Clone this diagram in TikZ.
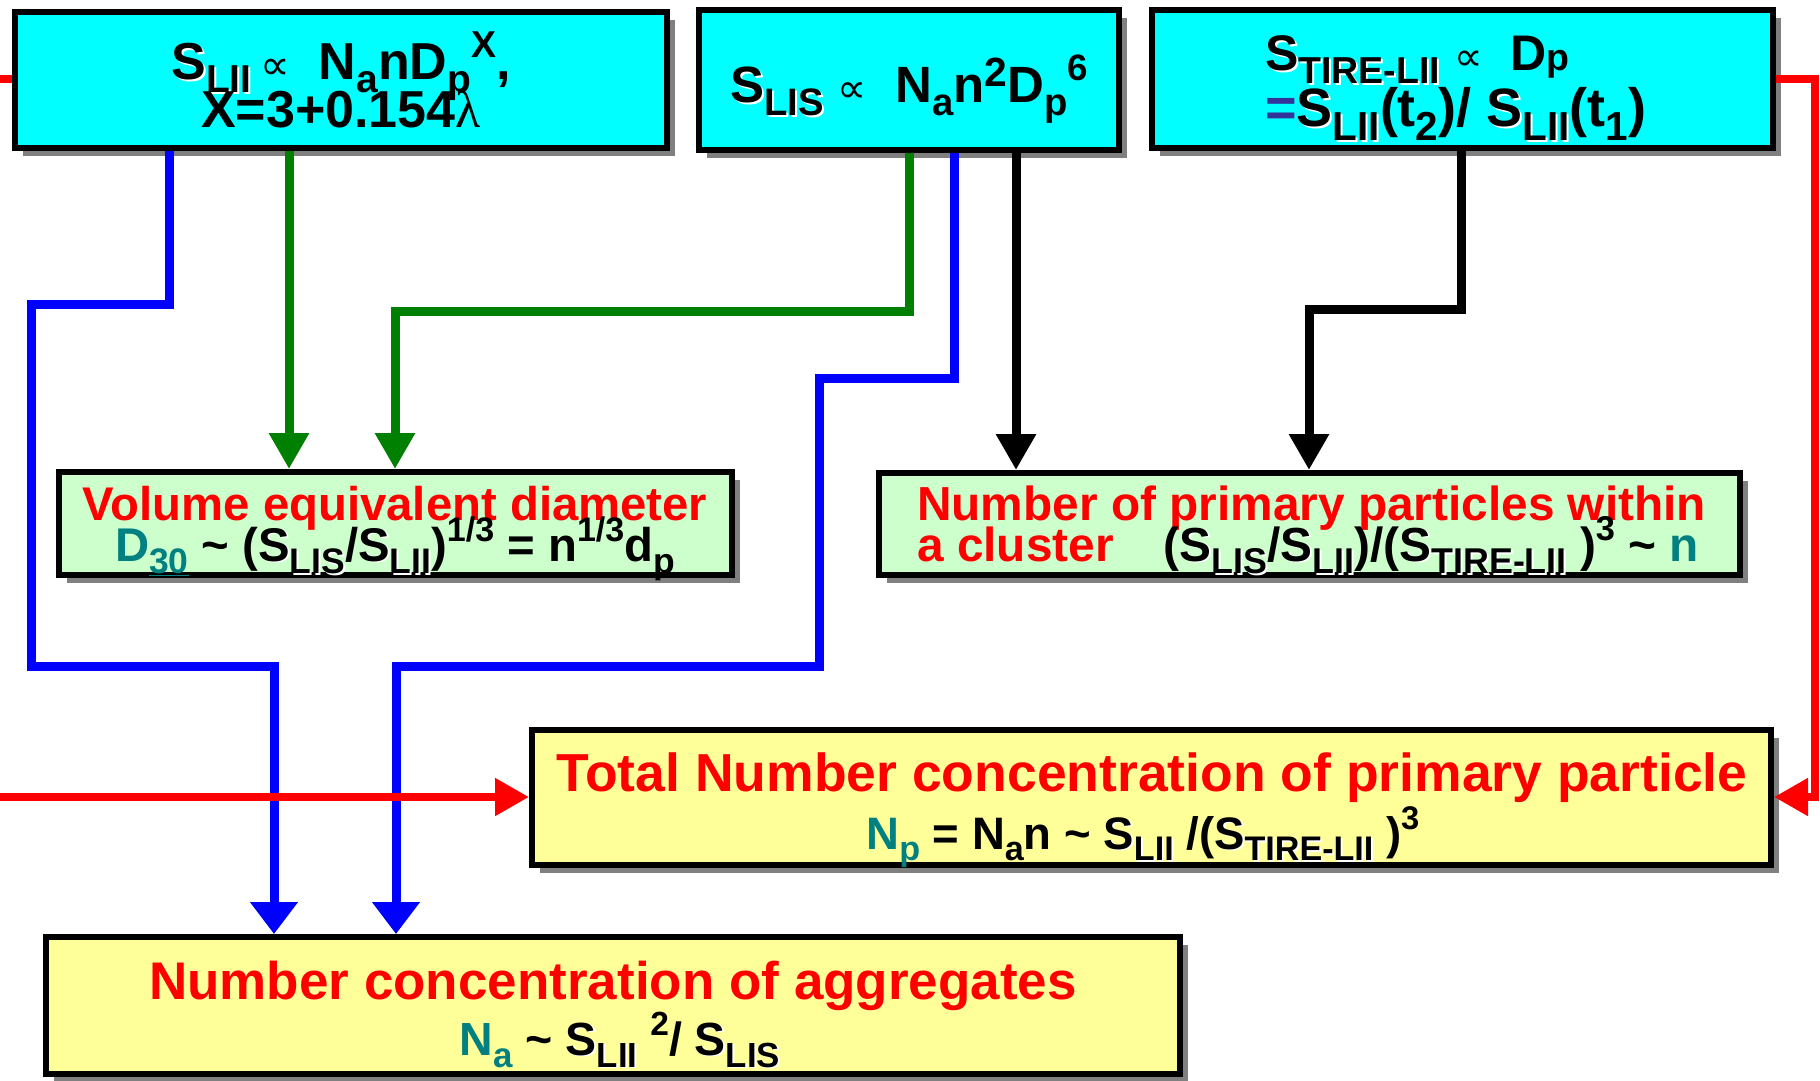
\documentclass[tikz,border=0pt]{standalone}
\usepackage{fontspec}
\usepackage{graphicx}
\setmainfont{Liberation Sans}
\newfontfamily\symf{DejaVu Sans}
\newfontfamily\serf{Liberation Serif}
\usetikzlibrary{arrows.meta,shadows}
\definecolor{cyanF}{RGB}{0,255,255}
\definecolor{greenF}{RGB}{204,255,204}
\definecolor{yellowF}{RGB}{255,255,153}
\definecolor{tealC}{RGB}{0,128,128}
\definecolor{eqblue}{RGB}{51,51,153}
\definecolor{greenL}{RGB}{0,128,0}
\definecolor{blueL}{RGB}{0,0,255}
\definecolor{redL}{RGB}{255,0,0}
\definecolor{shadowgray}{RGB}{128,128,128}
\newcommand\fs[2]{\fontsize{#1pt}{#2pt}\selectfont\bfseries}
\newcommand\mysub[1]{\raisebox{-0.26em}{\scalebox{0.75}{#1}}}
\newcommand\mysup[1]{\raisebox{0.42em}{\scalebox{0.72}{#1}}}
\newcommand\shd[1]{\makebox[0pt][l]{\hspace{0.04em}\raisebox{-0.04em}{\color{white}#1}}#1}
\newcommand\Ssub[1]{\shd{S\mysub{#1}}}
\newcommand\prop{{\symf\mdseries\scalebox{0.8}{∝}}}
\newcommand\tld{\textasciitilde}
\newcommand\lam{{\serf\mdseries λ}}
\begin{document}
\begin{tikzpicture}[x=1pt,y=-1pt,
  box/.style={draw=black,line width=6pt,inner sep=0pt,
    drop shadow={shadow xshift=8pt,shadow yshift=-8pt,fill=shadowgray,opacity=1}},
  txt/.style={inner sep=0pt,anchor=base},
  txtl/.style={inner sep=0pt,anchor=base west},
  bluec/.style={line width=9pt,draw=blueL,-{Triangle[width=46pt,length=32pt]}},
  greenc/.style={line width=9pt,draw=greenL,-{Triangle[width=38pt,length=36pt]}},
  blackc/.style={line width=9pt,draw=black,-{Triangle[width=38pt,length=36pt]}},
  redc/.style={line width=8pt,draw=redL,-{Triangle[width=36pt,length=34pt]}},
  redl/.style={line width=8pt,draw=redL}]
\useasboundingbox (0,0) rectangle (1820,1080);

% boxes
\node[box,fill=cyanF,minimum width=652pt,minimum height=136pt] (b1) at (341,80) {};
\node[box,fill=cyanF,minimum width=420pt,minimum height=140pt] (b2) at (909,80) {};
\node[box,fill=cyanF,minimum width=621pt,minimum height=138pt] (b3) at (1462.5,79) {};
\node[box,fill=greenF,minimum width=673pt,minimum height=103pt] (b4) at (395.5,523.5) {};
\node[box,fill=greenF,minimum width=861pt,minimum height=102pt] (b5) at (1309.5,524) {};
\node[box,fill=yellowF,minimum width=1239pt,minimum height=135pt] (b6) at (1151.5,797.5) {};
\node[box,fill=yellowF,minimum width=1134pt,minimum height=137pt] (b7) at (613,1005.5) {};

% texts
\node[txt,font={\fs{52}{48}}] (t1a) at (341,79) {\Ssub{LII}\,\prop\ \ N\mysub{a}nD\mysub{p}\mysup{X},};
\node[txt,font={\fs{52}{48}}] (t1b) at (341,127) {X=3+0.154\lam};
\node[txt,font={\fs{51}{48}}] (t2) at (909,102) {\Ssub{LIS}\ \prop\ \ N\mysub{a}n\raisebox{0.3em}{\scalebox{0.8}{2}}D\mysub{p}\mysup{6}};
\node[txtl,font={\fs{50}{48}}] (t3a) at (1265,70) {\Ssub{TIRE-LII}\ \prop\ \ D\scalebox{0.75}{p}};
\node[txtl,font={\fs{54}{48}}] (t3b) at (1265,126) {{\color{eqblue}=}\Ssub{LII}(t\mysub{2})/ \Ssub{LII}(t\mysub{1})};

\node[txt,font={\fs{47.3}{41}},text=redL] (t4a) at (395,520) {Volume equivalent diameter};
\node[txt,font={\fs{47.3}{41}}] (t4b) at (395,561) {{\color{tealC}D\mysub{\underline{30}}} \tld{} (\Ssub{LIS}/\Ssub{LII})\mysup{1/3} = n\mysup{1/3}d\mysub{p}};

\node[txtl,font={\fs{47.8}{41}},text=redL] (t5a) at (917,520) {Number of primary particles within};
\node[txtl,font={\fs{47.8}{41}}] (t5b) at (917,561) {{\color{redL}a cluster}\hspace{50pt}(\Ssub{LIS}/\Ssub{LII})/(\Ssub{TIRE-LII} )\mysup{3} \tld{} {\color{tealC}n}};

\node[txt,font={\fs{53.5}{59}},text=redL] (t6a) at (1152,791) {Total Number concentration of primary particle};
\node[txt,font={\fs{45.5}{59}}] (t6b) at (1143,849) {{\color{tealC}N\mysub{p}} = N\mysub{a}n \tld{} \Ssub{LII} /(\Ssub{TIRE-LII} )\mysup{3}};

\node[txt,font={\fs{53}{57}},text=redL] (t7a) at (613,999) {Number concentration of aggregates};
\node[txt,font={\fs{46.5}{57}}] (t7b) at (620,1055) {{\color{tealC}N\mysub{a}} \tld{} \Ssub{LII} \mysup{2}/ \Ssub{LIS}};

% waypoints
\coordinate (p1) at (169,304);
\coordinate (p2) at (31,304);
\coordinate (p3) at (31,666);
\coordinate (p4) at (274,666);
\coordinate (g1) at (289,300);
\coordinate (q1) at (909,311);
\coordinate (q2) at (395,311);
\coordinate (r1) at (954,378);
\coordinate (r2) at (819,378);
\coordinate (r3) at (819,666);
\coordinate (r4) at (396,666);
\coordinate (k1) at (1016,300);
\coordinate (m1) at (1461,309);
\coordinate (m2) at (1309,309);
\coordinate (e1) at (1815,79);
\coordinate (e2) at (1815,797);
\coordinate (L0) at (0,79);
\coordinate (L1) at (0,797);

% connectors
\draw[bluec] (b1.south -| p1) -- (p1) -- (p2) -- (p3) -- (p4) -- (b7.north -| p4);
\draw[greenc] (b1.south -| g1) -- (b4.north -| g1);
\draw[greenc] (b2.south -| q1) -- (q1) -- (q2) -- (b4.north -| q2);
\draw[bluec] (b2.south -| r1) -- (r1) -- (r2) -- (r3) -- (r4) -- (b7.north -| r4);
\draw[blackc] (b2.south -| k1) -- (b5.north -| k1);
\draw[blackc] (b3.south -| m1) -- (m1) -- (m2) -- (b5.north -| m2);
\draw[redc] (b3.east |- e1) -- (e1) -- (e2) -- (b6.east |- e2);
\draw[redc] (L1) -- (b6.west |- L1);
\draw[redl] (L0) -- (b1.west |- L0);
\end{tikzpicture}
\end{document}
